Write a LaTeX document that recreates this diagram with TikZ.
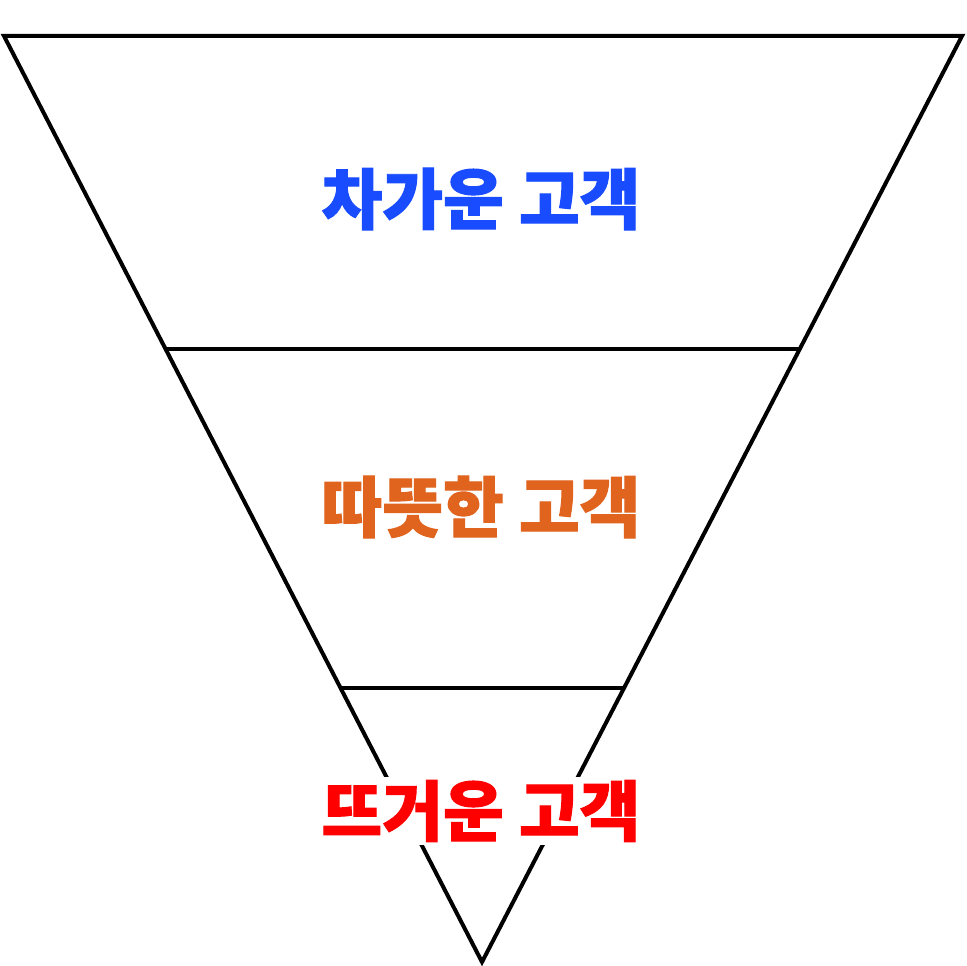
\documentclass[tikz,border=0pt]{standalone}
\usepackage{fontspec}
\newfontfamily\kr[BoldFeatures={FakeBold=1.5}]{Noto Sans CJK KR}
\definecolor{cold}{HTML}{1A4CFF}
\definecolor{warm}{HTML}{E0641E}
\definecolor{hot}{HTML}{FF0000}
\begin{document}
\begin{tikzpicture}[x=1pt,y=-1pt,line width=4pt,
  lbl/.style={font=\kr\bfseries\fontsize{66}{74}\selectfont,inner sep=3pt}]
\useasboundingbox (0,0) rectangle (966,966);
\coordinate (tl) at (4,36); \coordinate (tr) at (962,36); \coordinate (ap) at (482,962);
\coordinate (l1) at (165.6,349); \coordinate (r1) at (799,349);
\coordinate (l2) at (340.6,688); \coordinate (r2) at (624,688);
\draw[line join=miter] (tl) -- (tr) -- (ap) -- cycle;
\draw (l1) -- (r1);
\draw (l2) -- (r2);
\node[lbl,text=cold] (a) at (481,199) {차가운 고객};
\node[lbl,text=warm] (b) at (481,507) {따뜻한 고객};
\node[lbl,text=hot,fill=white] (c) at (481,811) {뜨거운 고객};
\end{tikzpicture}
\end{document}
